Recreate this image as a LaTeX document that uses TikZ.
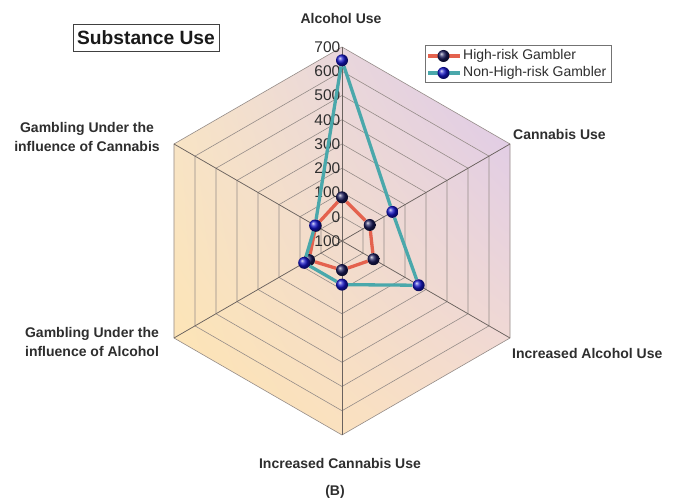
\documentclass[tikz,border=0pt]{standalone}
\usepackage{fontspec}
\setmainfont{Liberation Sans}
\usetikzlibrary{calc,shadings}
\definecolor{purp}{HTML}{D9C6EF}
\definecolor{cream}{HTML}{F8E6C9}
\definecolor{yel}{HTML}{FFE5AE}
\definecolor{peach}{HTML}{F6DDCF}
\definecolor{gridc}{HTML}{958C88}
\definecolor{spokec}{HTML}{6A625E}
\definecolor{labc}{HTML}{2E2E2E}
\definecolor{redc}{HTML}{E4624E}
\definecolor{tealc}{HTML}{4AA8AB}
\definecolor{hrc}{HTML}{1A1A5A}
\definecolor{nhc}{HTML}{1414C8}
\pgfdeclarelayer{bg}
\pgfdeclarelayer{hrl}
\pgfdeclarelayer{hrb}
\pgfdeclarelayer{nhl}
\pgfsetlayers{bg,hrl,hrb,nhl,main}
\begin{document}
\begin{tikzpicture}[x=1pt,y=1pt,
  grid/.style={draw=gridc, line width=0.6pt},
  spoke/.style={draw=spokec, line width=0.75pt},
  axlabel/.style={font=\bfseries\fontsize{14}{19}\selectfont, text=labc, align=center, inner sep=0pt},
  ticklab/.style={font=\fontsize{15.5}{17}\selectfont, text=labc, anchor=east, inner sep=0pt},
  hrball/.style={circle, minimum size=12pt, inner sep=0pt, shading=ball, ball color=hrc},
  nhball/.style={circle, minimum size=12pt, inner sep=0pt, shading=ball, ball color=nhc},
  hrline/.style={draw=redc, line width=3.3pt},
  nhline/.style={draw=tealc, line width=3.3pt},
  legtext/.style={font=\fontsize{14}{16}\selectfont, text=labc, anchor=west, inner sep=0pt}]
\useasboundingbox (0,0) rectangle (678,502);
\coordinate (O) at (342,261);
\foreach \a [count=\i] in {90,30,-30,-90,-150,150}
  \coordinate (V\i) at ($(O)+(\a:194)$);
\begin{pgfonlayer}{bg}
\fill[white] (0,0) rectangle (678,502);
\begin{scope}
  \clip (V1)--(V2)--(V3)--(V4)--(V5)--(V6)--cycle;
  \shade[upper right=purp, upper left=cream, lower left=yel, lower right=peach] (148,67) rectangle (536,455);
\end{scope}
\begin{scope}[shift={(O)}]
  \foreach \k in {1,...,8}{
    \pgfmathsetmacro\r{\k*24.25}
    \draw[grid] (90:\r)--(30:\r)--(-30:\r)--(-90:\r)--(-150:\r)--(150:\r)--cycle;
  }
\end{scope}
\foreach \i in {1,...,6} \draw[spoke] (O) -- (V\i);
\end{pgfonlayer}
% scale labels
\begin{pgfonlayer}{hrl}
\foreach \v [count=\j from 0] in {-100,0,100,200,300,400,500,600,700}
  \node[ticklab] (t\j) at (340.5, 261+\j*24.25) {\v};
\end{pgfonlayer}
% high-risk data
\begin{pgfonlayer}{hrb}
\foreach \a/\v/\n in {90/80/a, 30/32/b, -30/50/c, -90/20/d, -150/57/e, 150/25/f}
  \node[hrball] (h\n) at ($(O)+(\a:{(\v+100)*0.2425})$) {};
\end{pgfonlayer}
\begin{pgfonlayer}{hrl}
\draw[hrline] (ha)--(hb)--(hc)--(hd)--(he)--(hf)--(ha);
\end{pgfonlayer}
% non-high-risk data
\foreach \a/\v/\n in {90/645/a, 30/140/b, -30/265/c, -90/80/d, -150/80/e, 150/28/f}
  \node[nhball] (n\n) at ($(O)+(\a:{(\v+100)*0.2425})$) {};
\begin{pgfonlayer}{nhl}
\draw[nhline] (na)--(nb)--(nc)--(nd)--(ne)--(nf)--(na);
\end{pgfonlayer}
% axis labels
\node[axlabel] (la) at (341,483) {Alcohol Use};
\node[axlabel, anchor=west] (lb) at (513,367) {Cannabis Use};
\node[axlabel, anchor=west] (lc) at (512,148) {Increased Alcohol Use};
\node[axlabel] (ld) at (340,38) {Increased Cannabis Use};
\node[axlabel] (le) at (92,159.5) {Gambling Under the\\influence of Alcohol};
\node[axlabel] (lf) at (87,365) {Gambling Under the\\influence of Cannabis};
\node[axlabel, font=\bfseries\fontsize{14}{16}\selectfont] (cap) at (335,10) {(B)};
% title
\node[draw=black!75, line width=0.7pt, minimum width=146pt, minimum height=27pt, inner sep=0pt,
  font=\bfseries\fontsize{19.2}{21}\selectfont, text=black!90] (title) at (146,464.5) {Substance Use};
% legend
\node[draw=black!55, line width=0.6pt, minimum width=186pt, minimum height=37pt, inner sep=0pt] (leg) at (518,438.5) {};
\coordinate (l1a) at (428,446);
\coordinate (l1b) at (460,446);
\coordinate (l2a) at (428,429);
\coordinate (l2b) at (460,429);
\draw[draw=redc, line width=3.3pt] (l1a) -- (l1b);
\draw[draw=tealc, line width=3.3pt] (l2a) -- (l2b);
\node[hrball] (lb1) at (443.5,446) {};
\node[nhball] (lb2) at (443.5,429) {};
\node[legtext] (lt1) at (463,446) {High-risk Gambler};
\node[legtext] (lt2) at (463,429) {Non-High-risk Gambler};
\end{tikzpicture}
\end{document}
